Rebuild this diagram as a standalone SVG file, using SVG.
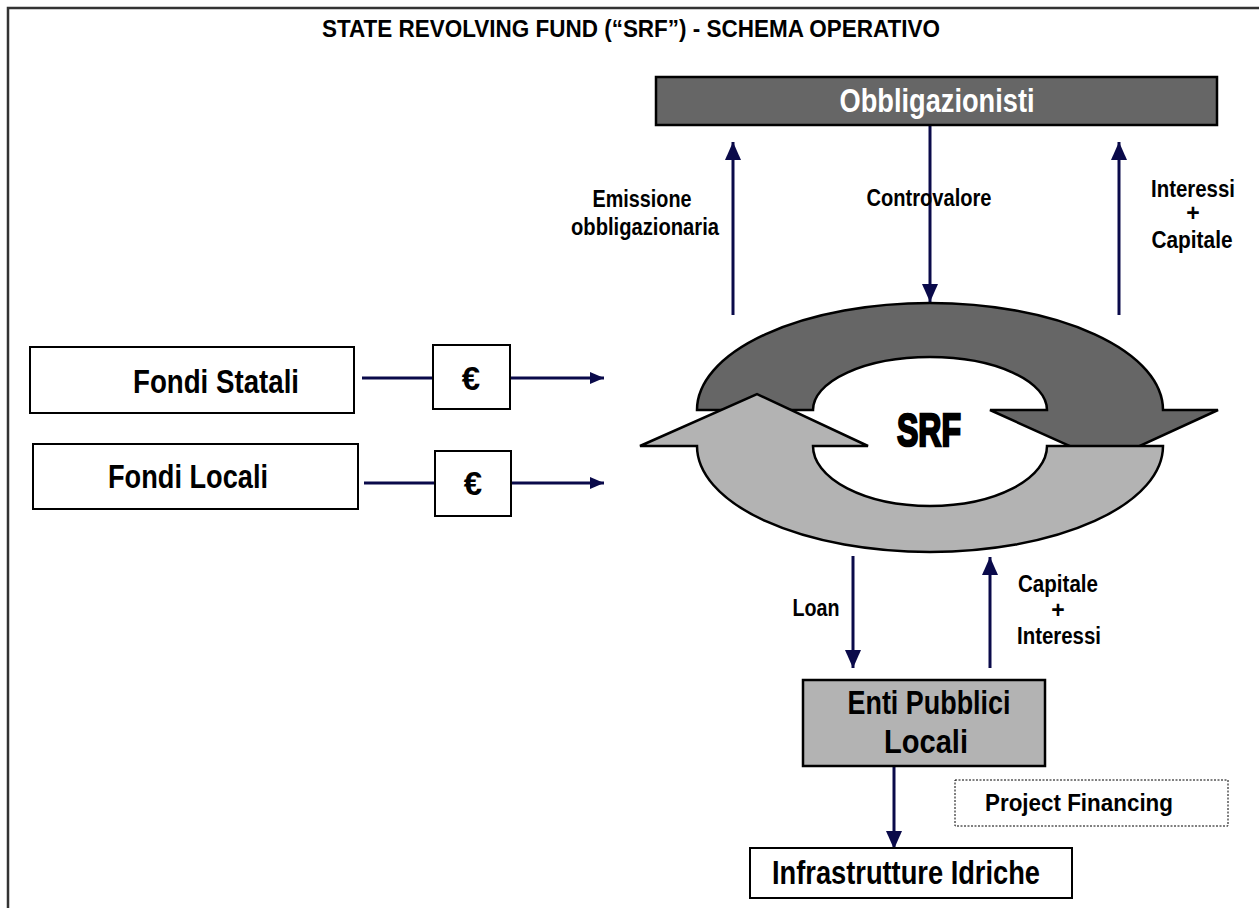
<svg xmlns="http://www.w3.org/2000/svg" width="1259" height="908" viewBox="0 0 1259 908">
<style>
text{font-family:'Liberation Sans Narrow','Liberation Sans',Arial,sans-serif;font-weight:bold;fill:#000;text-anchor:middle}
.box{fill:#fff;stroke:#000;stroke-width:2}
.lbl{font-size:23px}
.big{font-size:33px}
.conn{stroke:#0a0a4a;stroke-width:3;fill:none}
.ring{stroke:#000;stroke-width:2.5;stroke-linejoin:miter}
</style>
<defs>
<marker id="ah" markerUnits="userSpaceOnUse" markerWidth="20" markerHeight="18" refX="18" refY="9" orient="auto">
<path d="M0,1 L18,9 L0,17 Z" fill="#0a0a4a"/>
</marker>
<marker id="ahs" markerUnits="userSpaceOnUse" markerWidth="16" markerHeight="14" refX="14" refY="7" orient="auto">
<path d="M0,1 L14,7 L0,13 Z" fill="#0a0a4a"/>
</marker>
</defs>
<rect width="1259" height="908" fill="#fff"/>
<g id="frame">
<path d="M8,908 L8,8 L1259,8" fill="none" stroke="#333" stroke-width="2.5"/>
</g>
<g id="title">
<text x="631" y="37" font-size="24" textLength="618" lengthAdjust="spacingAndGlyphs">STATE REVOLVING FUND (“SRF”) - SCHEMA OPERATIVO</text>
</g>
<g id="connectors">
<line class="conn" x1="733" y1="315" x2="733" y2="142" marker-end="url(#ah)"/>
<line class="conn" x1="930" y1="125" x2="930" y2="302" marker-end="url(#ah)"/>
<line class="conn" x1="1119" y1="315" x2="1119" y2="142" marker-end="url(#ah)"/>
<line class="conn" x1="362" y1="378" x2="433" y2="378"/>
<line class="conn" x1="510" y1="378" x2="604" y2="378" marker-end="url(#ahs)"/>
<line class="conn" x1="364" y1="483" x2="435" y2="483"/>
<line class="conn" x1="511" y1="483" x2="604" y2="483" marker-end="url(#ahs)"/>
<line class="conn" x1="853" y1="556" x2="853" y2="668" marker-end="url(#ah)"/>
<line class="conn" x1="990" y1="668" x2="990" y2="557" marker-end="url(#ah)"/>
<line class="conn" x1="894" y1="766" x2="894" y2="849" marker-end="url(#ah)"/>
</g>
<g id="labels">
<text class="lbl" x="642" y="207" textLength="99" lengthAdjust="spacingAndGlyphs">Emissione</text>
<text class="lbl" x="645" y="235" textLength="148" lengthAdjust="spacingAndGlyphs">obbligazionaria</text>
<text class="lbl" x="929" y="206" textLength="125" lengthAdjust="spacingAndGlyphs">Controvalore</text>
<text class="lbl" x="1193" y="197" textLength="84" lengthAdjust="spacingAndGlyphs">Interessi</text>
<text class="lbl" x="1193" y="221">+</text>
<text class="lbl" x="1192" y="248" textLength="81" lengthAdjust="spacingAndGlyphs">Capitale</text>
<text class="lbl" x="816" y="616" textLength="47" lengthAdjust="spacingAndGlyphs">Loan</text>
<text class="lbl" x="1058" y="592" textLength="80" lengthAdjust="spacingAndGlyphs">Capitale</text>
<text class="lbl" x="1058" y="618">+</text>
<text class="lbl" x="1059" y="644" textLength="84" lengthAdjust="spacingAndGlyphs">Interessi</text>
</g>
<g id="obbligazionisti">
<rect x="656" y="77" width="561" height="48" fill="#666" stroke="#000" stroke-width="2.5"/>
<text x="937" y="112" font-size="33" style="fill:#fff" textLength="195" lengthAdjust="spacingAndGlyphs">Obbligazionisti</text>
</g>
<g id="srf">
<path class="ring" fill="#666" d="M697,410 A233,107 0 0 1 1163,410 L1218,410 L1105,462 L990,410 L1047,410 A117,53 0 0 0 813,410 Z"/>
<path class="ring" fill="#b3b3b3" d="M697,446 A233,106 0 0 0 1163,446 L1047,446 A117,60 0 0 1 813,446 L868,446 L757,394 L640,446 Z"/>
<text x="929" y="446" font-size="47" style="stroke:#000;stroke-width:2.5" textLength="64" lengthAdjust="spacingAndGlyphs">SRF</text>
</g>
<g id="fondi-statali">
<rect class="box" x="30" y="347" width="324" height="66"/>
<text class="big" x="216" y="393" textLength="166" lengthAdjust="spacingAndGlyphs">Fondi Statali</text>
</g>
<g id="euro-1">
<rect class="box" x="433" y="345" width="77" height="64"/>
<text class="big" x="471" y="390">€</text>
</g>
<g id="fondi-locali">
<rect class="box" x="33" y="444" width="325" height="65"/>
<text class="big" x="188" y="488" textLength="160" lengthAdjust="spacingAndGlyphs">Fondi Locali</text>
</g>
<g id="euro-2">
<rect class="box" x="435" y="451" width="76" height="65"/>
<text class="big" x="473" y="495">€</text>
</g>
<g id="enti">
<rect x="803" y="680" width="242" height="86" fill="#b3b3b3" stroke="#000" stroke-width="2.5"/>
<text class="big" x="929" y="714" textLength="163" lengthAdjust="spacingAndGlyphs">Enti Pubblici</text>
<text class="big" x="926" y="753" textLength="84" lengthAdjust="spacingAndGlyphs">Locali</text>
</g>
<g id="project-financing">
<rect x="955" y="780" width="273" height="46" fill="#fff" stroke="#000" stroke-width="1" stroke-dasharray="2,1.5"/>
<text x="1079" y="811" font-size="24" textLength="188" lengthAdjust="spacingAndGlyphs">Project Financing</text>
</g>
<g id="infrastrutture">
<rect class="box" x="750" y="848" width="322" height="50"/>
<text class="big" x="906" y="884" textLength="268" lengthAdjust="spacingAndGlyphs">Infrastrutture Idriche</text>
</g>
</svg>
